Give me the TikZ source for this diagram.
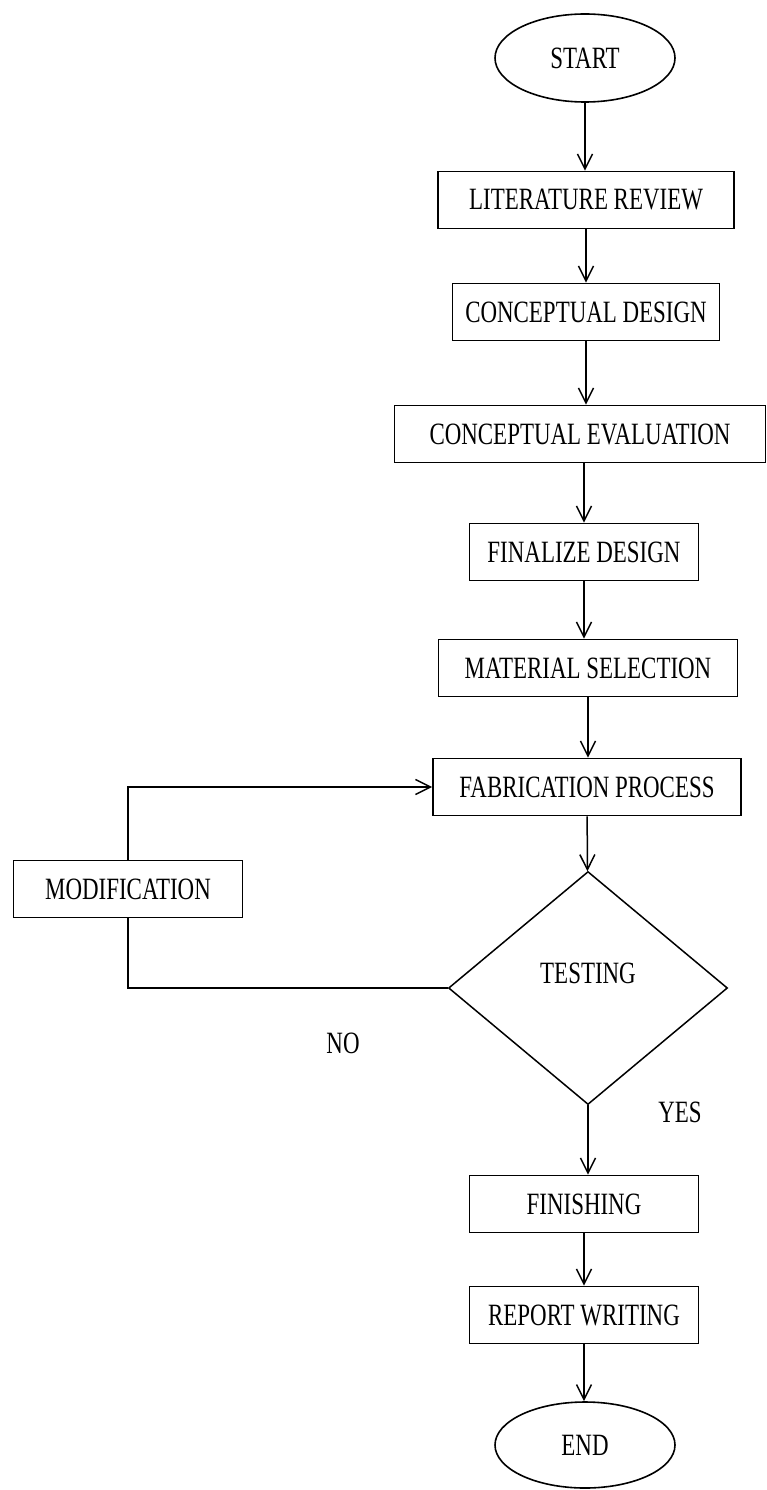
\documentclass[tikz,border=0pt]{standalone}
\usepackage{fontspec}
\setmainfont[FakeStretch=0.74]{Liberation Serif}
\usepackage{tikz}
\usetikzlibrary{shapes.geometric,arrows.meta}

\tikzset{
    caja/.style={draw, rectangle, line width=1.7pt, minimum height=57pt, inner sep=0pt,
        font=\fontsize{31}{33}\selectfont},
    extremo/.style={draw, ellipse, line width=1.6pt, minimum width=180pt, minimum height=88pt,
        inner sep=0pt, font=\fontsize{31}{33}\selectfont},
    decision/.style={draw, diamond, line width=1.5pt, minimum width=279pt, minimum height=233pt,
        inner sep=0pt},
    etiqueta/.style={font=\fontsize{31}{33}\selectfont}
}

\begin{document}
\begin{tikzpicture}[x=1pt, y=-1pt, line width=1.5pt, >={Straight Barb[length=15pt,width=15pt]}]
        \useasboundingbox (0,0) rectangle (767,1490);

        % Etapas del proceso
        \node[extremo] (inicio) at (585,58) {START};
        \node[caja, minimum width=296pt] (literatura) at (586,200) {LITERATURE REVIEW};
        \node[caja, minimum width=267pt] (concepto) at (586,312) {CONCEPTUAL DESIGN};
        \node[caja, minimum width=371pt] (evaluacion) at (580,434) {CONCEPTUAL EVALUATION};
        \node[caja, minimum width=229pt] (final) at (584,552) {FINALIZE DESIGN};
        \node[caja, minimum width=299pt] (material) at (588,668) {MATERIAL SELECTION};
        \node[caja, minimum width=308pt] (fabricacion) at (587,787) {FABRICATION PROCESS};
        \node[caja, minimum width=229pt] (modificacion) at (128,889) {MODIFICATION};
        \node[decision, label={[etiqueta, yshift=15pt]center:TESTING}] (prueba) at (588,988) {};
        \node[caja, minimum width=229pt] (acabado) at (584,1204) {FINISHING};
        \node[caja, minimum width=229pt] (informe) at (584,1315) {REPORT WRITING};
        \node[extremo, minimum height=86pt] (fin) at (585,1445) {END};

        % Flechas
        \draw[->] (inicio) -- (inicio |- literatura.north);
        \draw[->] (concepto |- literatura.south) -- (concepto);
        \draw[->] (concepto) -- (concepto |- evaluacion.north);
        \draw[->] (final |- evaluacion.south) -- (final);
        \draw[->] (final) -- (final |- material.north);
        \draw[->] (material) -- (material |- fabricacion.north);
        \draw[->] (fabricacion) -- (prueba);
        \draw[->] (prueba) -- (prueba |- acabado.north);
        \draw[->] (acabado) -- (informe);
        \draw[->] (informe) -- (informe |- fin.north);

        % Lazo de modificacion
        \draw (prueba.west) -| (modificacion.south);
        \draw[->] (modificacion.north) |- (fabricacion.west);
        \node[etiqueta] (no) at (343,1043) {NO};
        \node[etiqueta] (si) at (680,1112) {YES};
    \end{tikzpicture}
\end{document}
